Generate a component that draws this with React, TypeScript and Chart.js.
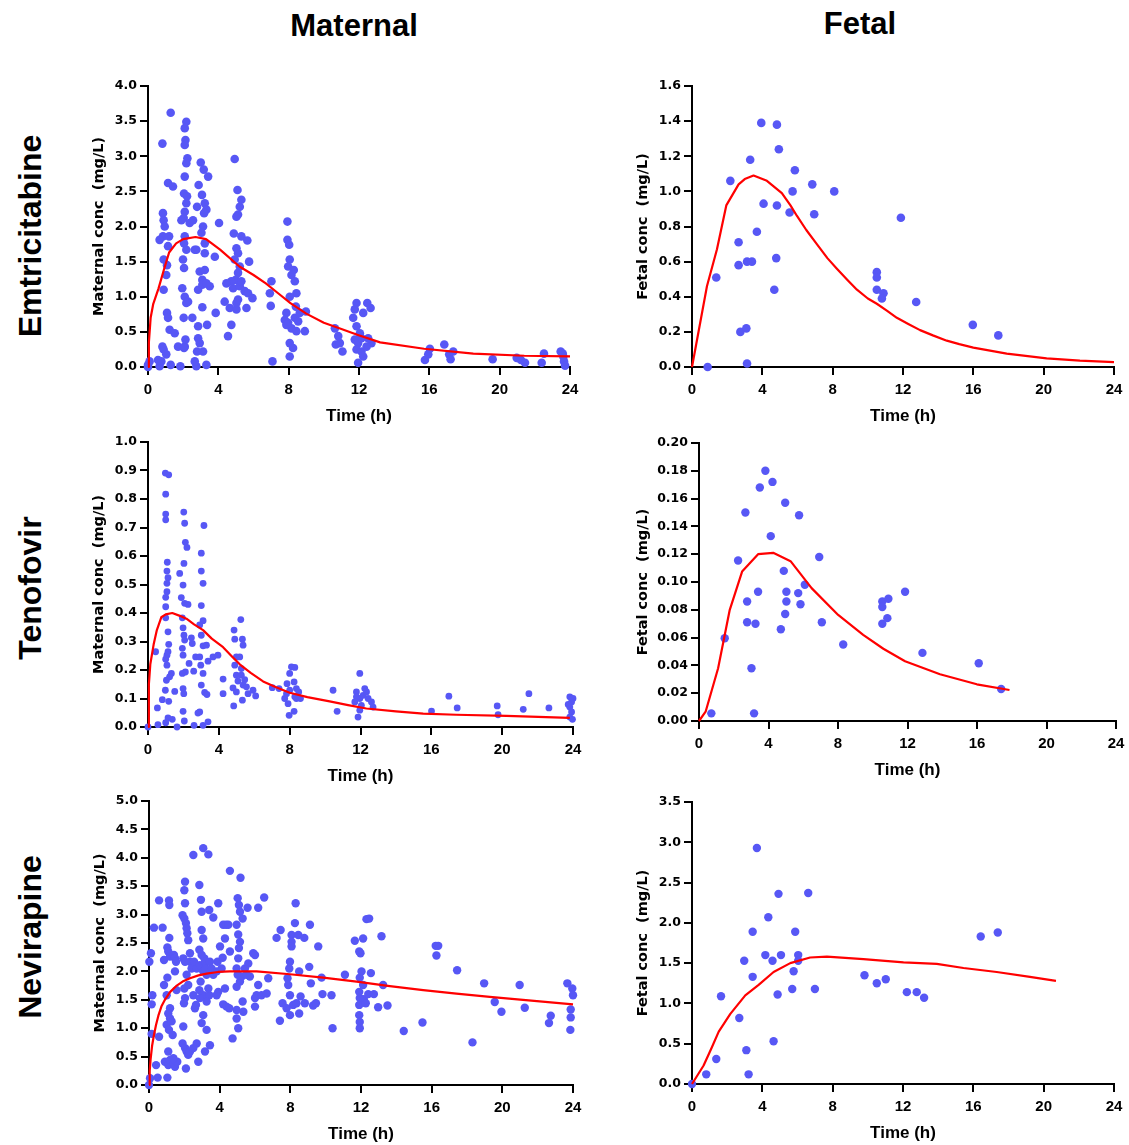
import React, { useEffect, useRef } from 'react';
import { Chart, registerables } from 'chart.js';
Chart.register(...registerables);

// ---------- Emtricitabine, maternal ----------
const emtMatTime = [0.0, 0.09, 0.0, 0.57, 0.66, 0.76, 0.82, 0.85, 0.89, 0.95, 0.85, 0.66, 1.2, 1.14, 0.89, 1.08, 1.04, 0.89, 1.08, 1.14, 1.23, 1.52, 0.82, 0.89, 1.04, 1.29, 1.14, 1.42, 1.29, 1.71, 2.09, 1.84, 2.18, 2.09, 2.13, 2.09, 2.24, 2.18, 2.09, 2.05, 2.22, 2.18, 2.09, 2.03, 1.9, 2.37, 2.09, 2.05, 2.18, 1.99, 2.05, 1.95, 2.09, 2.28, 2.03, 2.18, 2.13, 2.05, 2.56, 2.52, 2.66, 2.75, 2.66, 3.0, 3.17, 3.42, 2.88, 3.07, 3.23, 3.32, 3.19, 2.79, 3.13, 3.04, 3.23, 2.75, 3.23, 2.94, 3.23, 3.09, 2.85, 3.09, 3.51, 3.32, 3.09, 2.85, 3.36, 2.85, 2.94, 2.79, 3.13, 3.32, 3.8, 4.04, 3.85, 4.36, 4.55, 4.74, 4.65, 5.03, 4.93, 5.09, 5.31, 5.22, 5.12, 5.03, 4.88, 5.31, 5.65, 5.03, 5.12, 4.93, 5.22, 5.12, 4.99, 4.84, 5.22, 5.31, 5.5, 5.75, 5.69, 5.94, 5.6, 5.12, 5.03, 4.74, 4.46, 7.02, 6.93, 6.98, 7.08, 7.93, 7.93, 8.03, 8.06, 7.97, 8.29, 8.16, 8.35, 8.44, 8.06, 8.41, 7.87, 7.78, 7.97, 8.35, 8.54, 8.16, 8.44, 8.92, 8.98, 8.06, 8.25, 8.06, 7.87, 8.63, 10.63, 10.82, 10.68, 10.91, 11.06, 11.86, 11.76, 11.67, 11.86, 12.05, 11.76, 11.95, 12.14, 11.86, 12.14, 12.24, 11.95, 12.47, 12.66, 12.24, 12.71, 12.52, 12.43, 15.75, 15.94, 16.03, 16.85, 17.13, 17.21, 17.36, 19.6, 20.97, 21.21, 21.44, 22.39, 22.52, 23.47, 23.62, 23.66, 23.72, 23.59];
const emtMatConc = [0.03, 0.08, 0.0, 0.1, 0.01, 0.08, 3.18, 2.19, 2.09, 2.0, 1.86, 1.81, 1.86, 1.72, 1.53, 1.45, 1.31, 1.1, 0.77, 0.7, 0.53, 0.48, 0.29, 0.25, 0.18, 3.62, 2.62, 2.57, 0.03, 0.29, 0.29, 0.01, 3.49, 3.4, 3.23, 3.16, 2.97, 2.9, 2.71, 2.47, 2.43, 2.33, 2.21, 2.12, 2.09, 2.05, 1.86, 1.76, 1.67, 1.53, 1.41, 1.12, 1.0, 0.93, 0.7, 0.91, 0.39, 0.27, 2.09, 0.7, 1.67, 0.01, 0.08, 2.91, 2.81, 2.71, 2.59, 2.45, 2.33, 2.24, 2.19, 2.28, 2.0, 1.91, 1.76, 1.67, 1.62, 1.36, 1.38, 1.24, 1.1, 1.17, 1.15, 1.19, 0.85, 0.58, 0.6, 0.41, 0.34, 0.22, 0.22, 0.03, 1.57, 2.05, 0.77, 0.93, 0.44, 0.6, 0.84, 0.82, 2.96, 2.52, 2.38, 2.28, 2.17, 2.14, 1.9, 1.86, 1.8, 1.69, 1.62, 1.53, 1.43, 1.34, 1.24, 1.12, 1.15, 1.22, 1.08, 1.5, 1.05, 0.98, 0.84, 0.96, 0.91, 1.22, 1.19, 1.22, 1.05, 0.87, 0.08, 2.07, 1.81, 1.74, 1.53, 1.43, 1.38, 1.31, 1.22, 1.05, 1.0, 0.86, 0.77, 0.67, 0.63, 0.7, 0.65, 0.55, 0.51, 0.51, 0.79, 0.34, 0.27, 0.15, 0.6, 0.77, 0.55, 0.44, 0.32, 0.34, 0.22, 0.91, 0.82, 0.7, 0.58, 0.48, 0.39, 0.34, 0.41, 0.25, 0.22, 0.15, 0.06, 0.91, 0.84, 0.77, 0.34, 0.41, 0.29, 0.1, 0.18, 0.26, 0.32, 0.18, 0.11, 0.22, 0.11, 0.13, 0.1, 0.06, 0.06, 0.19, 0.22, 0.15, 0.08, 0.02, 0.19];
const emtMatFitTime = [0, 0.05, 0.15, 0.3, 0.6, 0.9, 1.2, 1.6, 2.0, 2.7, 3.3, 4.1, 5.2, 6.0, 6.7, 7.4, 8.1, 9.0, 10.0, 11.0, 11.9, 13.2, 15.7, 18.5, 21.4, 24];
const emtMatFitConc = [0, 0.35, 0.7, 0.9, 1.12, 1.38, 1.63, 1.76, 1.82, 1.85, 1.82, 1.67, 1.43, 1.31, 1.19, 1.05, 0.91, 0.76, 0.63, 0.54, 0.46, 0.35, 0.26, 0.19, 0.16, 0.15];

// ---------- Emtricitabine, fetal ----------
const emtFetTime = [0.89, 1.38, 2.18, 2.65, 2.65, 2.75, 3.09, 3.13, 3.41, 3.31, 3.13, 3.69, 3.94, 4.07, 4.68, 4.79, 4.83, 4.83, 4.94, 5.55, 5.72, 5.85, 6.84, 6.95, 8.09, 10.51, 10.51, 10.51, 10.89, 10.8, 11.88, 12.75, 15.97, 17.42];
const emtFetConc = [0.0, 0.51, 1.06, 0.71, 0.58, 0.2, 0.22, 0.6, 0.6, 1.18, 0.02, 0.77, 1.39, 0.93, 0.44, 0.62, 0.92, 1.38, 1.24, 0.88, 1.0, 1.12, 1.04, 0.87, 1.0, 0.54, 0.51, 0.44, 0.42, 0.39, 0.85, 0.37, 0.24, 0.18];
const emtFetFitTime = [0, 0.85, 1.42, 1.95, 2.65, 3.0, 3.5, 4.26, 5.11, 5.6, 5.97, 6.5, 7.1, 7.7, 8.24, 8.8, 9.38, 10.0, 10.51, 11.1, 11.65, 12.3, 12.97, 13.7, 14.49, 15.2, 16.0, 17.9, 20.17, 22.06, 24];
const emtFetFitConc = [0, 0.46, 0.67, 0.92, 1.04, 1.07, 1.09, 1.06, 0.99, 0.92, 0.86, 0.78, 0.7, 0.62, 0.56, 0.5, 0.44, 0.39, 0.36, 0.32, 0.28, 0.245, 0.21, 0.18, 0.15, 0.13, 0.11, 0.076, 0.049, 0.036, 0.028];

// ---------- Tenofovir, maternal ----------
const tenMatTime = [0, 0.43, 0.53, 0.56, 0.81, 0.98, 1.17, 1.0, 1.0, 1.0, 1.09, 1.07, 1.13, 1.07, 1.07, 1.0, 1.0, 1.0, 1.13, 1.17, 1.13, 1.07, 1.0, 1.07, 1.32, 1.22, 1.04, 0.98, 1.17, 1.13, 1.0, 1.37, 1.64, 1.51, 1.79, 1.88, 2.02, 2.07, 2.11, 2.2, 2.03, 1.98, 2.07, 2.26, 1.94, 1.98, 2.03, 2.07, 1.94, 1.98, 2.11, 1.94, 1.98, 2.02, 1.98, 2.05, 2.32, 2.45, 2.5, 2.58, 2.69, 2.6, 3.01, 3.01, 3.11, 3.01, 3.11, 3.16, 2.92, 3.01, 3.11, 2.92, 2.98, 3.11, 3.01, 3.2, 3.33, 2.92, 2.82, 3.11, 3.39, 3.3, 3.39, 3.67, 3.95, 4.24, 4.24, 4.86, 4.9, 4.99, 4.9, 4.99, 5.08, 4.8, 4.99, 4.84, 5.24, 5.33, 5.37, 5.18, 5.27, 5.27, 5.37, 5.33, 5.46, 5.56, 5.65, 5.93, 6.08, 7.02, 7.4, 8.1, 8.29, 8.0, 7.85, 8.0, 7.72, 7.91, 7.97, 8.25, 8.38, 8.38, 8.25, 8.51, 8.29, 7.82, 8.61, 10.45, 10.68, 11.96, 11.77, 11.96, 12.05, 11.86, 12.15, 12.24, 12.34, 12.43, 12.62, 12.71, 11.96, 11.77, 11.68, 16.01, 16.99, 17.46, 19.72, 19.77, 21.19, 21.51, 22.64, 23.82, 23.92, 23.82, 23.92, 23.82, 23.97, 23.73, 24.0];
const tenMatConc = [0, 0.264, 0.067, 0.008, 0.096, 0.891, 0.885, 0.817, 0.747, 0.727, 0.578, 0.547, 0.524, 0.504, 0.475, 0.455, 0.422, 0.383, 0.334, 0.29, 0.264, 0.252, 0.238, 0.217, 0.188, 0.176, 0.164, 0.129, 0.09, 0.032, 0.015, 0.027, 0.0, 0.125, 0.539, 0.454, 0.754, 0.715, 0.648, 0.63, 0.574, 0.498, 0.434, 0.43, 0.383, 0.348, 0.322, 0.305, 0.276, 0.252, 0.193, 0.188, 0.135, 0.117, 0.055, 0.021, 0.223, 0.313, 0.293, 0.196, 0.246, 0.006, 0.61, 0.547, 0.504, 0.426, 0.373, 0.707, 0.358, 0.322, 0.285, 0.246, 0.217, 0.188, 0.147, 0.121, 0.114, 0.053, 0.049, 0.006, 0.018, 0.287, 0.231, 0.246, 0.252, 0.168, 0.117, 0.34, 0.308, 0.246, 0.217, 0.182, 0.161, 0.137, 0.123, 0.074, 0.377, 0.308, 0.287, 0.246, 0.205, 0.182, 0.147, 0.094, 0.166, 0.141, 0.117, 0.129, 0.109, 0.138, 0.135, 0.211, 0.209, 0.188, 0.152, 0.129, 0.1, 0.082, 0.041, 0.158, 0.135, 0.1, 0.055, 0.123, 0.106, 0.117, 0.1, 0.129, 0.055, 0.188, 0.123, 0.1, 0.076, 0.035, 0.111, 0.135, 0.123, 0.1, 0.088, 0.07, 0.059, 0.106, 0.088, 0.056, 0.108, 0.067, 0.074, 0.043, 0.062, 0.117, 0.067, 0.106, 0.088, 0.07, 0.053, 0.035, 0.027, 0.079, 0.1];
const tenMatFitTime = [0, 0.05, 0.13, 0.32, 0.5, 0.75, 1.0, 1.37, 1.8, 2.17, 2.6, 3.11, 3.6, 4.24, 4.7, 5.18, 5.8, 6.5, 7.2, 8.0, 9.0, 10.26, 11.3, 12.33, 14.0, 15.54, 17.4, 20.24, 23.82];
const tenMatFitConc = [0, 0.15, 0.22, 0.29, 0.34, 0.385, 0.395, 0.4, 0.39, 0.38, 0.36, 0.34, 0.31, 0.28, 0.25, 0.22, 0.19, 0.16, 0.14, 0.12, 0.105, 0.09, 0.077, 0.065, 0.055, 0.047, 0.043, 0.039, 0.032];

// ---------- Tenofovir, fetal ----------
const tenFetTime = [0.71, 1.48, 2.25, 2.67, 2.77, 2.77, 3.02, 3.17, 3.25, 3.4, 3.5, 3.82, 4.13, 4.23, 4.71, 4.88, 4.96, 4.96, 5.03, 5.03, 5.71, 5.76, 5.84, 6.09, 6.92, 7.07, 8.3, 10.55, 10.55, 10.55, 10.84, 10.9, 11.86, 12.86, 16.1, 17.39];
const tenFetConc = [0.0055, 0.0595, 0.1155, 0.15, 0.086, 0.071, 0.038, 0.0055, 0.07, 0.093, 0.168, 0.18, 0.133, 0.172, 0.066, 0.108, 0.077, 0.157, 0.093, 0.086, 0.092, 0.148, 0.084, 0.098, 0.118, 0.071, 0.055, 0.086, 0.082, 0.07, 0.074, 0.088, 0.093, 0.049, 0.0415, 0.023];
const tenFetFitTime = [0, 0.38, 1.1, 1.77, 2.48, 3.4, 4.27, 5.27, 6.48, 8.01, 9.45, 10.61, 11.86, 13.87, 15.99, 17.87];
const tenFetFitConc = [0, 0.0067, 0.038, 0.08, 0.1075, 0.12, 0.121, 0.115, 0.0956, 0.0763, 0.062, 0.052, 0.043, 0.0336, 0.0264, 0.0223];

// ---------- Nevirapine, maternal ----------
const nevMatTime = [0, 0.06, 0.02, 0.11, 0.19, 0.15, 0.15, 0.28, 0.4, 0.49, 0.57, 0.57, 0.77, 0.85, 0.85, 1.13, 1.15, 1.15, 1.04, 1.09, 1.19, 1.04, 1.0, 1.19, 1.09, 1.19, 1.0, 1.13, 1.34, 1.09, 0.9, 1.09, 1.04, 1.19, 1.38, 1.47, 1.28, 1.41, 1.47, 1.53, 1.47, 1.56, 1.6, 1.38, 1.9, 2.04, 2.0, 2.04, 2.0, 2.09, 2.13, 2.17, 2.22, 1.94, 2.04, 2.13, 2.0, 2.22, 2.04, 1.98, 1.94, 1.9, 2.04, 2.13, 2.22, 2.09, 2.32, 2.32, 2.32, 2.51, 2.41, 2.51, 2.6, 2.66, 2.7, 2.79, 2.51, 2.55, 2.7, 2.85, 2.94, 2.98, 2.98, 3.07, 2.85, 2.98, 3.13, 2.88, 3.07, 2.92, 2.85, 3.07, 2.88, 3.07, 2.98, 3.17, 3.22, 3.26, 3.07, 3.36, 3.26, 3.17, 3.41, 3.45, 3.45, 3.54, 3.64, 3.64, 3.41, 3.36, 3.26, 3.92, 4.02, 3.88, 3.83, 3.92, 3.83, 4.11, 4.17, 4.3, 4.2, 4.36, 4.49, 4.2, 4.3, 4.39, 4.58, 4.58, 4.73, 4.54, 4.96, 4.96, 5.05, 4.96, 5.02, 5.09, 5.18, 5.15, 5.3, 5.05, 5.15, 5.09, 5.05, 4.96, 5.02, 4.96, 5.15, 5.24, 5.3, 5.34, 5.43, 5.52, 5.62, 5.58, 5.9, 6.0, 5.71, 6.18, 6.18, 6.0, 6.0, 6.09, 6.37, 6.52, 6.66, 6.75, 7.22, 7.45, 7.41, 7.56, 7.79, 7.98, 7.98, 7.84, 7.88, 7.94, 7.98, 8.07, 8.07, 8.07, 8.26, 8.3, 8.16, 8.35, 8.45, 8.5, 8.5, 8.58, 8.79, 8.82, 9.11, 9.07, 9.16, 9.29, 9.45, 9.58, 9.77, 9.82, 10.39, 10.33, 11.09, 11.65, 11.9, 11.97, 11.93, 12.03, 12.12, 11.9, 11.93, 11.9, 11.9, 11.93, 11.93, 12.12, 12.16, 12.27, 12.41, 12.31, 12.46, 12.56, 12.73, 12.97, 13.16, 13.25, 13.5, 14.42, 15.48, 16.23, 16.37, 16.27, 17.44, 18.31, 18.97, 19.57, 19.95, 20.98, 21.27, 22.64, 22.74, 23.68, 23.96, 24.0, 23.87, 23.87, 23.85];
const nevMatConc = [0, 0.12, 2.17, 2.32, 1.58, 1.42, 0.9, 2.77, 0.35, 0.13, 3.25, 0.85, 2.77, 1.76, 2.2, 3.25, 3.17, 2.59, 2.42, 2.35, 2.26, 1.89, 1.58, 1.35, 1.26, 1.17, 1.06, 0.97, 0.88, 0.59, 0.41, 0.35, 0.13, 0.44, 0.38, 0.32, 1.12, 2.29, 2.23, 2.17, 2.0, 1.67, 0.41, 0.47, 2.99, 3.58, 3.43, 3.2, 2.93, 2.85, 2.76, 2.67, 2.55, 2.23, 2.17, 1.94, 1.7, 1.76, 1.53, 1.44, 1.03, 0.73, 0.65, 0.59, 0.53, 0.29, 0.59, 2.32, 2.17, 4.05, 2.05, 1.58, 1.35, 1.41, 0.73, 0.41, 0.65, 2.17, 2.05, 3.52, 3.26, 3.05, 2.73, 2.58, 2.38, 2.29, 2.23, 2.11, 2.0, 1.82, 1.67, 1.58, 1.53, 1.23, 1.09, 2.17, 2.05, 1.94, 4.17, 4.06, 0.97, 0.59, 3.08, 0.7, 2.17, 2.05, 1.94, 2.95, 1.58, 1.7, 1.47, 3.2, 2.44, 2.17, 2.0, 1.64, 1.58, 2.05, 2.24, 2.58, 2.82, 2.82, 2.82, 1.42, 1.7, 1.38, 3.77, 2.35, 0.82, 1.35, 1.32, 1.17, 1.0, 2.82, 3.29, 3.17, 3.65, 3.05, 2.93, 2.65, 2.52, 2.41, 2.23, 2.05, 1.94, 1.73, 1.82, 1.91, 1.47, 1.29, 2.05, 1.94, 2.14, 3.12, 2.32, 2.29, 1.91, 3.12, 1.76, 1.53, 1.38, 1.58, 1.58, 3.3, 1.61, 1.88, 2.59, 2.73, 1.13, 1.44, 1.35, 1.23, 1.58, 1.88, 1.76, 2.05, 2.17, 2.64, 2.52, 2.44, 2.85, 3.2, 1.41, 1.44, 2.64, 2.0, 1.26, 1.56, 2.59, 1.44, 2.82, 2.08, 1.79, 1.4, 1.44, 2.44, 1.89, 1.6, 1.0, 1.58, 1.94, 2.54, 2.35, 2.32, 1.89, 2.0, 1.76, 1.64, 1.53, 1.41, 1.23, 1.11, 1.0, 2.58, 1.51, 1.44, 1.6, 2.92, 2.93, 1.97, 1.6, 1.37, 2.62, 1.76, 1.4, 0.95, 1.1, 2.45, 2.45, 2.28, 2.02, 0.75, 1.79, 1.46, 1.29, 1.76, 1.36, 1.09, 1.22, 1.79, 1.7, 1.58, 1.33, 1.19, 0.97];
const nevMatFitTime = [0, 0.04, 0.09, 0.18, 0.28, 0.4, 0.53, 0.7, 0.9, 1.2, 1.53, 1.9, 2.32, 2.8, 3.26, 3.9, 4.58, 6.09, 7.98, 9.86, 11.75, 13.63, 15.52, 17.4, 19.29, 21.17, 24];
const nevMatFitConc = [0, 0.25, 0.45, 0.7, 0.88, 1.06, 1.22, 1.38, 1.5, 1.64, 1.74, 1.82, 1.88, 1.93, 1.96, 1.99, 2.0, 2.0, 1.95, 1.89, 1.82, 1.74, 1.67, 1.61, 1.55, 1.5, 1.42];

// ---------- Nevirapine, fetal ----------
const nevFetTime = [0, 0.81, 1.38, 1.65, 2.69, 2.97, 3.09, 3.22, 3.45, 3.45, 3.69, 4.17, 4.34, 4.58, 4.64, 4.87, 4.92, 5.06, 5.7, 5.78, 5.87, 6.04, 6.04, 6.61, 6.99, 9.81, 10.51, 11.02, 12.22, 12.78, 13.2, 16.42, 17.39];
const nevFetConc = [0, 0.12, 0.31, 1.09, 0.82, 1.53, 0.42, 0.12, 1.33, 1.89, 2.93, 1.6, 2.07, 1.53, 0.53, 1.11, 2.36, 1.6, 1.18, 1.4, 1.89, 1.6, 1.53, 2.37, 1.18, 1.35, 1.25, 1.3, 1.14, 1.14, 1.07, 1.83, 1.88];
const nevFetFitTime = [0, 0.66, 1.1, 1.52, 2.18, 3.03, 3.79, 4.64, 5.59, 6.72, 7.67, 9.75, 12.03, 13.92, 15.44, 17.33, 19.22, 20.7];
const nevFetFitConc = [0, 0.23, 0.44, 0.65, 0.87, 1.1, 1.23, 1.39, 1.5, 1.57, 1.58, 1.55, 1.51, 1.49, 1.44, 1.39, 1.33, 1.28];

// ---------- axes ----------
const timeTicksMax = 24;
const timeTickStep = 4;
const columnTitles = ['Maternal', 'Fetal'];
const rowTitles = ['Emtricitabine', 'Tenofovir', 'Nevirapine'];

const DOT = '#5757F5';
const RED = '#FF0000';
const SANS = "'Liberation Sans', Arial, Helvetica, sans-serif";
const WIDE = "'DejaVu Sans', 'Liberation Sans', sans-serif";

type Spec = {
  time: number[]; conc: number[]; fitTime: number[]; fitConc: number[];
  yMax: number; yStep: number; dec: number; yTitle: string;
  x0: number; x24: number; yTop: number; yBot: number; yW: number; r: number;
};

const specs: Spec[] = [
  { time: emtMatTime, conc: emtMatConc, fitTime: emtMatFitTime, fitConc: emtMatFitConc, yMax: 4, yStep: 0.5, dec: 1, yTitle: 'Maternal conc  (mg/L)', x0: 148, x24: 570, yTop: 86, yBot: 367, yW: 60, r: 4.3 },
  { time: emtFetTime, conc: emtFetConc, fitTime: emtFetFitTime, fitConc: emtFetFitConc, yMax: 1.6, yStep: 0.2, dec: 1, yTitle: 'Fetal conc  (mg/L)', x0: 692, x24: 1114, yTop: 86, yBot: 367, yW: 60, r: 4.3 },
  { time: tenMatTime, conc: tenMatConc, fitTime: tenMatFitTime, fitConc: tenMatFitConc, yMax: 1.0, yStep: 0.1, dec: 1, yTitle: 'Maternal conc  (mg/L)', x0: 148, x24: 573, yTop: 442, yBot: 727, yW: 60, r: 3.4 },
  { time: tenFetTime, conc: tenFetConc, fitTime: tenFetFitTime, fitConc: tenFetFitConc, yMax: 0.2, yStep: 0.02, dec: 2, yTitle: 'Fetal conc  (mg/L)', x0: 699, x24: 1116, yTop: 443, yBot: 721, yW: 67, r: 4.2 },
  { time: nevMatTime, conc: nevMatConc, fitTime: nevMatFitTime, fitConc: nevMatFitConc, yMax: 5, yStep: 0.5, dec: 1, yTitle: 'Maternal conc  (mg/L)', x0: 149, x24: 573, yTop: 801, yBot: 1085, yW: 60, r: 4.2 },
  { time: nevFetTime, conc: nevFetConc, fitTime: nevFetFitTime, fitConc: nevFetFitConc, yMax: 3.5, yStep: 0.5, dec: 1, yTitle: 'Fetal conc  (mg/L)', x0: 692, x24: 1114, yTop: 802, yBot: 1084, yW: 60, r: 4.2 },
];

const PAD_TOP = 12;
const PAD_RIGHT = 22;
const X_H = 62;

function Panel({ s }: { s: Spec }) {
  const ref = useRef<HTMLCanvasElement>(null);
  const w = s.yW + (s.x24 - s.x0) + PAD_RIGHT;
  const h = PAD_TOP + (s.yBot - s.yTop) + X_H;
  useEffect(() => {
    const canvas = ref.current!;
    const pts = s.time.map((t, i) => ({ x: t, y: s.conc[i] }));
    const fit = s.fitTime.map((t, i) => ({ x: t, y: s.fitConc[i] }));
    const chart = new Chart(canvas, {
      type: 'scatter',
      data: {
        datasets: [
          { data: fit, showLine: true, borderColor: RED, backgroundColor: RED, borderWidth: 2.2, pointRadius: 0, tension: 0, fill: false, clip: false, borderJoinStyle: 'round' } as any,
          { data: pts, showLine: false, pointRadius: s.r, pointBackgroundColor: DOT, pointBorderColor: DOT, pointBorderWidth: 0, backgroundColor: DOT, borderColor: DOT, clip: false } as any,
        ],
      },
      options: {
        responsive: false,
        animation: false,
        events: [],
        layout: { padding: { left: 0, top: PAD_TOP, right: PAD_RIGHT, bottom: 0 } },
        plugins: { legend: { display: false }, tooltip: { enabled: false } },
        scales: {
          x: {
            type: 'linear', min: 0, max: timeTicksMax,
            ticks: { stepSize: timeTickStep, autoSkip: false, maxRotation: 0, color: '#000', padding: 6, font: { family: SANS, size: 15, weight: 'bold' } },
            grid: { display: true, drawOnChartArea: false, drawTicks: true, tickLength: 8, color: '#000', lineWidth: 2 },
            border: { display: true, color: '#000', width: 2 },
            title: { display: true, text: 'Time (h)', color: '#000', padding: { top: 0, bottom: 2 }, font: { family: SANS, size: 17, weight: 'bold' } },
            afterFit: (sc: any) => { sc.height = X_H; },
          },
          y: {
            type: 'linear', min: 0, max: s.yMax,
            ticks: { stepSize: s.yStep, autoSkip: false, color: '#000', padding: 3, font: { family: WIDE, size: 12.5, weight: 'bold' }, callback: (v: any) => Number(v).toFixed(s.dec) },
            grid: { display: true, drawOnChartArea: false, drawTicks: true, tickLength: 8, color: '#000', lineWidth: 2 },
            border: { display: true, color: '#000', width: 2 },
            title: { display: true, text: s.yTitle, color: '#000', padding: { top: 3, bottom: 0 }, font: { family: WIDE, size: 14.5, weight: 'bold' } },
            afterFit: (sc: any) => { sc.width = s.yW; },
          },
        },
      } as any,
    });
    return () => chart.destroy();
  }, []);
  return (
    <canvas
      ref={ref}
      width={w}
      height={h}
      style={{ position: 'absolute', left: s.x0 - s.yW, top: s.yTop - PAD_TOP, width: w, height: h }}
    />
  );
}

const colPos = [{ x: 354, y: 25 }, { x: 860, y: 23 }];
const rowPos = [{ x: 30, y: 236 }, { x: 30, y: 588 }, { x: 30, y: 937 }];

export default function App() {
  return (
    <div style={{ position: 'absolute', left: 0, top: 0, width: 1129, height: 1145, background: '#fff', overflow: 'hidden' }}>
      {columnTitles.map((t, i) => (
        <div key={t} style={{ position: 'absolute', left: colPos[i].x, top: colPos[i].y, transform: 'translate(-50%, -50%)', fontFamily: SANS, fontWeight: 'bold', fontSize: 31, lineHeight: 1, whiteSpace: 'nowrap', color: '#000' }}>{t}</div>
      ))}
      {rowTitles.map((t, i) => (
        <div key={t} style={{ position: 'absolute', left: rowPos[i].x, top: rowPos[i].y, transform: 'translate(-50%, -50%) rotate(-90deg)', fontFamily: SANS, fontWeight: 'bold', fontSize: 32, lineHeight: 1, whiteSpace: 'nowrap', color: '#000' }}>{t}</div>
      ))}
      {specs.map((s, i) => <Panel key={i} s={s} />)}
    </div>
  );
}
